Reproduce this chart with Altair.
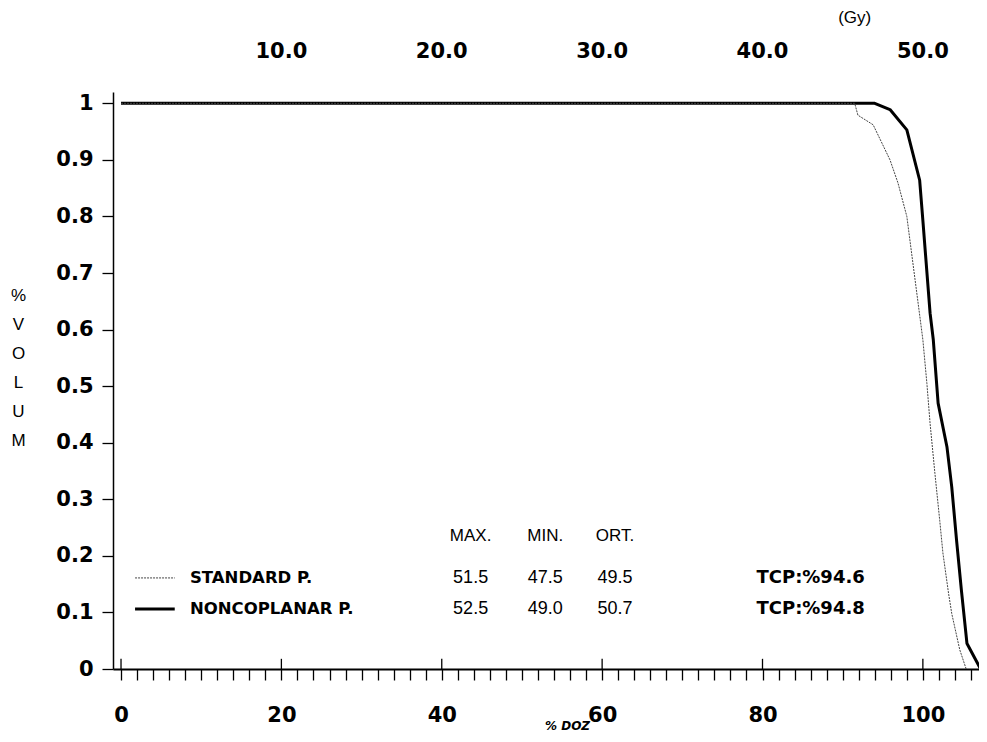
import altair as alt
import pandas as pd

# ---- data ----
standard_dose = [0, 91.5, 91.9, 93.8, 95.9, 96.9, 98.0, 99.0, 100.0, 100.5, 100.9, 101.5, 102.1, 102.5, 103.2, 103.6, 104.6, 105.4]
standard_vol = [1.0, 1.0, 0.979, 0.962, 0.900, 0.859, 0.800, 0.691, 0.582, 0.505, 0.434, 0.346, 0.263, 0.205, 0.134, 0.098, 0.034, 0.0]

noncop_dose = [0, 94.0, 95.9, 98.0, 99.6, 100.0, 100.9, 101.3, 101.9, 103.0, 103.6, 104.2, 104.8, 105.5, 107.2]
noncop_vol = [1.0, 1.0, 0.989, 0.953, 0.864, 0.793, 0.629, 0.582, 0.470, 0.393, 0.322, 0.228, 0.140, 0.045, 0.0]

series_names = ["STANDARD P.", "NONCOPLANAR P."]
table_headers = ["MAX.", "MIN.", "ORT."]
max_vals = ["51.5", "52.5"]
min_vals = ["47.5", "49.0"]
ort_vals = ["49.5", "50.7"]
tcp_vals = ["TCP:%94.6", "TCP:%94.8"]

x_ticks_minor = list(range(0, 107, 2))
x_ticks_major = [0, 20, 40, 60, 80, 100]
gy_ticks = [20, 40, 60, 80, 100]          # % dose positions of the Gy labels
gy_labels = ["10.0", "20.0", "30.0", "40.0", "50.0"]
gy_unit = "(Gy)"
y_ticks = [0, 0.1, 0.2, 0.3, 0.4, 0.5, 0.6, 0.7, 0.8, 0.9, 1.0]
y_title = ["%", "V", "O", "L", "U", "M"]

# ---- layout (in data units of the scales) ----
row_y = [0.161, 0.106]
header_y = 0.235
col_x = [43.6, 52.9, 61.6]
tcp_x = 86.0
legend_text_x = 8.6
legend_line_x = [1.75, 6.7]
gy_label_y = 1.09
gy_unit_pos = (91.5, 1.151)

xscale = alt.Scale(domain=[-1, 107], nice=False, zero=False)
yscale = alt.Scale(domain=[0, 1.02], nice=False, zero=False)

std_df = pd.DataFrame({"dose": standard_dose, "vol": standard_vol})
nc_df = pd.DataFrame({"dose": noncop_dose, "vol": noncop_vol})

BOLD = "DejaVu Sans"
REG = "Liberation Sans"

bottom_axis = alt.Axis(
    orient="bottom", values=x_ticks_minor,
    labelExpr="datum.value % 20 === 0 ? datum.value : ''",
    tickSize=11, tickColor="black", tickWidth=1.3,
    domainColor="black", domainWidth=2, grid=False,
    labelFont=BOLD, labelFontWeight="bold", labelFontSize=21, labelColor="black",
    labelPadding=24, labelOverlap=False, labelFlush=False,
    title="% DOZ", titleX=454, titleY=60, titleAlign="center", titleBaseline="alphabetic",
    titleFont=BOLD, titleFontSize=12, titleFontStyle="italic", titleFontWeight="bold",
    titleColor="black",
)

y_axis = alt.Axis(
    orient="left", values=y_ticks,
    labelExpr="datum.value == 0 ? '0' : (datum.value == 1 ? '1' : format(datum.value, '.1f'))",
    tickSize=11, tickColor="black", tickWidth=1.3,
    domainColor="black", domainWidth=1.5, grid=False,
    labelFont=BOLD, labelFontWeight="bold", labelFontSize=21, labelColor="black",
    labelPadding=9, labelOverlap=False, labelFlush=False,
    title=y_title, titleAngle=0, titleX=-95, titleY=195, titleAlign="center",
    titleBaseline="top", titleFont=REG, titleFontSize=17, titleFontWeight="normal",
    titleLineHeight=29, titleColor="black",
)

thick = alt.Chart(nc_df).mark_line(color="black", strokeWidth=3, strokeJoin="round").encode(
    x=alt.X("dose:Q", scale=xscale, axis=bottom_axis),
    y=alt.Y("vol:Q", scale=yscale, axis=y_axis),
    order="dose:Q",
)

thin = alt.Chart(std_df).mark_line(color="#444444", strokeWidth=1, strokeDash=[2, 1]).encode(
    x=alt.X("dose:Q", scale=xscale, axis=None),
    y=alt.Y("vol:Q", scale=yscale, axis=None),
    order="dose:Q",
)

major_df = pd.DataFrame({"x": x_ticks_major, "y0": [0] * len(x_ticks_major), "y1": [0.018] * len(x_ticks_major)})
major = alt.Chart(major_df).mark_rule(color="black", strokeWidth=1.3).encode(
    x=alt.X("x:Q", scale=xscale, axis=None),
    y=alt.Y("y0:Q", scale=yscale, axis=None),
    y2="y1:Q",
)

# top (Gy) labels
gy_df = pd.DataFrame({"x": gy_ticks, "y": [gy_label_y] * len(gy_ticks), "t": gy_labels})
gy_text = alt.Chart(gy_df).mark_text(
    align="center", baseline="middle", font=BOLD, fontWeight="bold", fontSize=21, color="black"
).encode(
    x=alt.X("x:Q", scale=xscale, axis=None),
    y=alt.Y("y:Q", scale=yscale, axis=None),
    text="t:N",
)
unit_df = pd.DataFrame({"x": [gy_unit_pos[0]], "y": [gy_unit_pos[1]], "t": [gy_unit]})
unit_text = alt.Chart(unit_df).mark_text(
    align="center", baseline="middle", font=REG, fontSize=17, color="black"
).encode(
    x=alt.X("x:Q", scale=xscale, axis=None),
    y=alt.Y("y:Q", scale=yscale, axis=None),
    text="t:N",
)

leg_df = pd.DataFrame({
    "x0": [legend_line_x[0]] * 2, "x1": [legend_line_x[1]] * 2,
    "y": row_y, "name": series_names,
})
leg_thin = alt.Chart(leg_df.iloc[[0]]).mark_rule(color="#444444", strokeWidth=1, strokeDash=[2, 1]).encode(
    x=alt.X("x0:Q", scale=xscale, axis=None), x2="x1:Q",
    y=alt.Y("y:Q", scale=yscale, axis=None),
)
leg_thick = alt.Chart(leg_df.iloc[[1]]).mark_rule(color="black", strokeWidth=3).encode(
    x=alt.X("x0:Q", scale=xscale, axis=None), x2="x1:Q",
    y=alt.Y("y:Q", scale=yscale, axis=None),
)
leg_df["tx"] = [legend_text_x] * 2
leg_text = alt.Chart(leg_df).mark_text(
    align="left", baseline="middle", font=BOLD, fontWeight="bold", fontSize=16.5, color="black"
).encode(
    x=alt.X("tx:Q", scale=xscale, axis=None),
    y=alt.Y("y:Q", scale=yscale, axis=None),
    text="name:N",
)

hdr_df = pd.DataFrame({"x": col_x, "y": [header_y] * 3, "t": table_headers})
hdr = alt.Chart(hdr_df).mark_text(
    align="center", baseline="middle", font=REG, fontSize=17, color="black"
).encode(
    x=alt.X("x:Q", scale=xscale, axis=None),
    y=alt.Y("y:Q", scale=yscale, axis=None),
    text="t:N",
)

cells = []
for vals, cx in zip([max_vals, min_vals, ort_vals], col_x):
    for v, ry in zip(vals, row_y):
        cells.append({"x": cx, "y": ry, "t": v})
num_df = pd.DataFrame(cells)
nums = alt.Chart(num_df).mark_text(
    align="center", baseline="middle", font=REG, fontSize=18, color="black"
).encode(
    x=alt.X("x:Q", scale=xscale, axis=None),
    y=alt.Y("y:Q", scale=yscale, axis=None),
    text="t:N",
)

tcp_df = pd.DataFrame({"x": [tcp_x] * 2, "y": row_y, "t": tcp_vals})
tcp = alt.Chart(tcp_df).mark_text(
    align="center", baseline="middle", font=BOLD, fontWeight="bold", fontSize=18, color="black"
).encode(
    x=alt.X("x:Q", scale=xscale, axis=None),
    y=alt.Y("y:Q", scale=yscale, axis=None),
    text="t:N",
)

chart = alt.layer(
    thick, thin, major, gy_text, unit_text, leg_thin, leg_thick, leg_text, hdr, nums, tcp
).resolve_axis(x="independent", y="independent").properties(
    width=866, height=577,
    autosize=alt.AutoSizeParams(type="none"),
    padding={"left": 105, "top": 84, "right": 0, "bottom": 65},
    background="white",
).configure_view(strokeWidth=0)

chart.save("out.html", embed_options={"renderer": "svg", "actions": False})
